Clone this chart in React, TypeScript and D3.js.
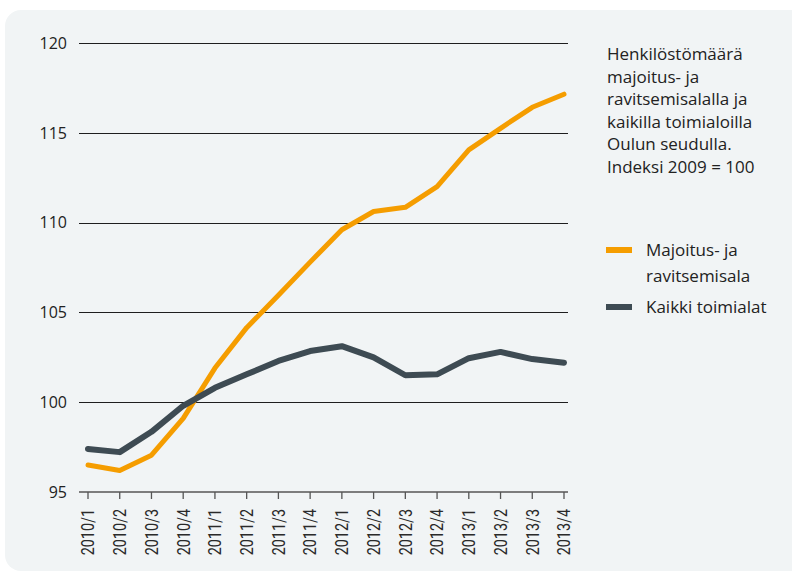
import React from 'react';
import * as d3 from 'd3';

const categories = ['2010/1','2010/2','2010/3','2010/4','2011/1','2011/2','2011/3','2011/4','2012/1','2012/2','2012/3','2012/4','2013/1','2013/2','2013/3','2013/4'];
const majoitus = [96.5, 96.2, 97.05, 99.1, 101.9, 104.15, 105.95, 107.8, 109.6, 110.62, 110.85, 112.0, 114.05, 115.25, 116.42, 117.15];
const kaikki = [97.4, 97.22, 98.35, 99.8, 100.8, 101.55, 102.3, 102.85, 103.12, 102.5, 101.5, 101.55, 102.45, 102.8, 102.4, 102.2];
const yTicks = [95, 100, 105, 110, 115, 120];
const titleLines = ['Henkilöstömäärä', 'majoitus- ja', 'ravitsemisalalla ja', 'kaikilla toimialoilla', 'Oulun seudulla.', 'Indeksi 2009 = 100'];
const legendItems = [
  { lines: ['Majoitus- ja', 'ravitsemisala'], color: '#f59d00' },
  { lines: ['Kaikki toimialat'], color: '#3e4b53' },
];

const W = 792, H = 576;
const font = '"Open Sans", "Noto Sans", sans-serif';
const labelFont = 'Roboto, "Liberation Sans", sans-serif';

export default function App() {
  const x = d3.scalePoint<string>().domain(categories).range([88, 564]);
  const y = d3.scaleLinear().domain([95, 120]).range([492, 43]);
  const line = d3.line<number>().x((_, i) => x(categories[i])!).y(d => y(d));
  const gridX0 = 79, gridX1 = 568;

  return (
    <svg width={W} height={H} style={{ position: 'absolute', left: 0, top: 0 }}>
      <rect x={5} y={10} width={W + 20} height={561} rx={16} ry={16} fill="#f1f4f5" />
      {yTicks.filter(t => t !== 95).map(t => (
        <line key={t} x1={gridX0} x2={gridX1} y1={Math.round(y(t)) + 0.5} y2={Math.round(y(t)) + 0.5} stroke="#1e1e1e" strokeWidth={1} />
      ))}
      {yTicks.map(t => (
        <text key={'l' + t} x={67} y={y(t)} dy="0.36em" textAnchor="end" fontFamily={font} fontSize={16} fill="#222">{t}</text>
      ))}
      <line x1={gridX0} x2={gridX1} y1={y(95)} y2={y(95)} stroke="#7d7d7d" strokeWidth={2} />
      {categories.map(c => (
        <g key={c}>
          <line x1={x(c)!} x2={x(c)!} y1={y(95)} y2={y(95) + 7} stroke="#555" strokeWidth={1.3} />
          <text transform={`translate(${x(c)},${509}) rotate(-90) scale(0.8,1)`} dy="0.35em" textAnchor="end" fontFamily={labelFont} fontSize={18} fill="#2a2a2a">{c}</text>
        </g>
      ))}
      <path d={line(majoitus)!} fill="none" stroke="#f59d00" strokeWidth={5} strokeLinejoin="round" strokeLinecap="round" />
      <path d={line(kaikki)!} fill="none" stroke="#3e4b53" strokeWidth={6} strokeLinejoin="round" strokeLinecap="round" />
      {titleLines.map((t, i) => (
        <text key={t} x={607} y={60 + i * 22.5} fontFamily={font} fontSize={17} fill="#222">{t}</text>
      ))}
      {legendItems.map((it, i) => {
        const cy = i === 0 ? 250 : 307;
        return (
          <g key={i}>
            <line x1={606} x2={632} y1={cy} y2={cy} stroke={it.color} strokeWidth={6} />
            {it.lines.map((l, j) => (
              <text key={l} x={646} y={cy + j * 26} dy="0.36em" fontFamily={font} fontSize={17} fill="#222">{l}</text>
            ))}
          </g>
        );
      })}
    </svg>
  );
}
